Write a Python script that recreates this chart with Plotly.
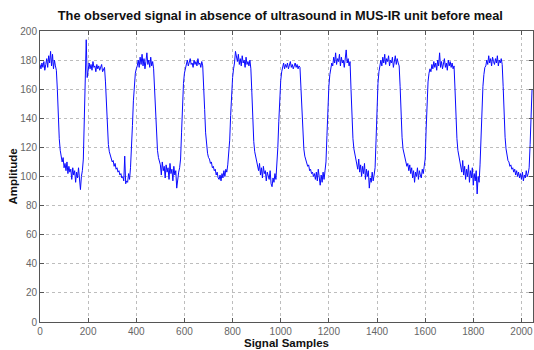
import plotly.graph_objects as go

# Amplitude, one value every 4 samples (0, 4, 8, ... )
amplitude = [
    # high 0-68
    177, 174, 178, 175, 179, 173, 177, 181, 175, 183, 178, 186, 176, 184, 174, 180, 176, 173,
    # fall 72-88
    160, 140, 126, 118, 114,
    # low 92-180
    110, 113, 106, 109, 104, 110, 102, 107, 103, 105, 98, 106, 101, 104, 96, 103, 99, 106, 95, 91, 100, 104, 112,
    # rise 184-196
    135, 160, 194, 168,
    # high 200-268
    172, 178, 174, 177, 173, 179, 175, 176, 172, 177, 174, 176, 173, 175, 177, 172, 174, 175,
    # fall 272-292
    165, 148, 132, 122, 117, 114,
    # low 296-376
    112, 110, 111, 107, 109, 105, 106, 103, 104, 101, 102, 99, 100, 97, 114, 95, 97, 96, 102, 98, 106,
    # rise 380-400
    118, 135, 152, 165, 171, 174,
    # high 404-472
    176, 180, 175, 182, 177, 184, 176, 181, 174, 179, 185, 177, 180, 175, 182, 176, 179, 174,
    # fall 476-496
    160, 140, 125, 118, 113, 110,
    # low 500-584
    108, 101, 110, 104, 107, 99, 108, 103, 106, 98, 109, 102, 105, 97, 107, 101, 104, 92, 100, 103, 106, 112,
    # rise 588-604
    130, 150, 164, 171, 175,
    # high 608-676
    177, 180, 176, 179, 181, 177, 178, 175, 180, 177, 179, 176, 181, 177, 178, 175, 179, 176,
    # fall 680-700
    165, 146, 130, 121, 116, 113,
    # low 704-784
    112, 109, 110, 106, 107, 104, 105, 101, 103, 99, 98, 101, 97, 102, 99, 104, 100, 105, 103, 108, 115,
    # rise 788-808
    125, 142, 158, 168, 174, 178,
    # high 812-876
    186, 182, 179, 184, 177, 181, 176, 183, 178, 180, 175, 182, 177, 179, 176, 180, 174,
    # fall 880-900
    158, 138, 124, 117, 113, 110,
    # low 904-984
    108, 104, 109, 101, 106, 99, 107, 102, 104, 97, 103, 100, 98, 104, 95, 93, 99, 96, 102, 98, 106,
    # rise 988-1012
    120, 138, 155, 166, 172, 176, 178,
    # high 1016-1080
    174, 177, 175, 178, 174, 176, 179, 175, 177, 174, 176, 178, 175, 177, 174, 176, 175,
    # fall 1084-1104
    162, 142, 127, 119, 114, 111,
    # low 1108-1188
    110, 107, 108, 104, 105, 102, 103, 100, 102, 98, 103, 97, 105, 99, 94, 101, 96, 103, 98, 104, 110,
    # rise 1192-1212
    128, 148, 162, 170, 175, 178,
    # high 1216-1288
    176, 182, 178, 185, 177, 181, 179, 184, 176, 182, 178, 180, 175, 183, 187, 178, 181, 176, 179,
    # fall 1292-1312
    160, 140, 126, 119, 115, 112,
    # low 1316-1392
    110, 105, 112, 103, 108, 100, 107, 102, 109, 98, 105, 100, 104, 92, 99, 96, 103, 97, 101, 106,
    # rise 1396-1412
    125, 148, 164, 172, 177,
    # high 1416-1492
    180, 176, 182, 178, 184, 177, 181, 179, 183, 176, 180, 178, 182, 175, 180, 183, 177, 181, 178, 176,
    # fall 1496-1516
    162, 142, 127, 119, 115, 112,
    # low 1520-1600
    110, 107, 109, 104, 108, 102, 106, 99, 104, 96, 103, 100, 106, 98, 104, 101, 99, 105, 102, 107, 112,
    # rise 1604-1620
    132, 152, 165, 171, 174,
    # high 1624-1720
    172, 177, 174, 179, 175, 178, 173, 180, 176, 185, 175, 179, 174, 177, 181, 175, 178, 173, 180, 176,
    179, 175, 178, 174, 176,
    # fall 1724-1744
    160, 140, 126, 118, 114, 110,
    # low 1748-1828
    108, 103, 111, 101, 107, 98, 105, 100, 108, 96, 104, 99, 106, 94, 102, 97, 104, 88, 100, 96, 108,
    # rise 1832-1848
    128, 148, 162, 170, 175,
    # high 1852-1920
    176, 180, 177, 183, 178, 181, 176, 182, 179, 177, 181, 178, 183, 176, 180, 178, 181, 177,
    # fall 1924-1944
    162, 141, 127, 119, 114, 111,
    # low 1948-2032
    110, 107, 108, 105, 106, 103, 105, 101, 104, 100, 103, 99, 102, 98, 103, 97, 101, 99, 104, 100, 102, 106,
    # rise 2036-2044
    122, 142, 160,
]
samples = list(range(0, 4 * len(amplitude), 4))

x_ticks = [0, 200, 400, 600, 800, 1000, 1200, 1400, 1600, 1800, 2000]
y_ticks = [0, 20, 40, 60, 80, 100, 120, 140, 160, 180, 200]

fig = go.Figure()
fig.add_trace(go.Scatter(
    x=samples, y=amplitude, mode="lines",
    line=dict(color="rgb(10,10,255)", width=1),
    showlegend=False,
))

axis_common = dict(
    showline=True, linecolor="#555", linewidth=1, mirror="ticks",
    ticks="inside", ticklen=4, tickcolor="#555",
    showgrid=True, gridcolor="#bdbdbd", griddash="dot", gridwidth=1,
    zeroline=False,
    tickfont=dict(family="Liberation Sans, Arial", size=10, color="#666"),
)

fig.update_layout(
    width=534, height=350,
    margin=dict(l=40, r=1, t=31, b=28),
    paper_bgcolor="white", plot_bgcolor="white",
    title=dict(
        text="<b>The observed signal in absence of ultrasound in MUS-IR unit before meal</b>",
        x=0.525, xanchor="center", y=0.955, yanchor="middle",
        font=dict(family="Liberation Sans, Arial", size=12.8, color="#111"),
    ),
    xaxis=dict(
        range=[0, 2048], tickvals=x_ticks, ticktext=[str(v) for v in x_ticks],
        title=dict(text="<b>Signal Samples</b>", standoff=2,
                   font=dict(family="Liberation Sans, Arial", size=11.5, color="#111")),
        **axis_common,
    ),
    yaxis=dict(
        range=[0, 200], tickvals=y_ticks, ticktext=[str(v) for v in y_ticks],
        title=dict(text="<b>Amplitude</b>", standoff=0,
                   font=dict(family="Liberation Sans, Arial", size=11.5, color="#111")),
        **axis_common,
    ),
)

fig.write_html("out.html")
